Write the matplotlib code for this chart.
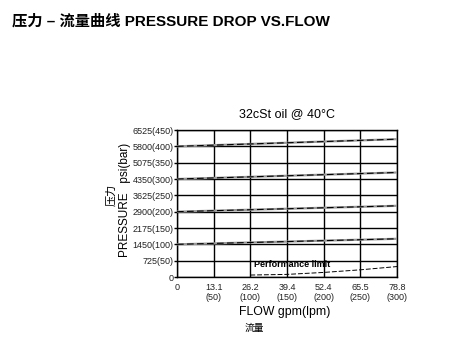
import matplotlib.pyplot as plt

plt.rcParams['font.family'] = ['Liberation Sans', 'Noto Sans CJK SC', 'DejaVu Sans']

# flow in lpm, pressure in bar
flow_lpm = [0, 300]
curve_100 = [100, 117]
curve_200 = [200, 218]
curve_300 = [300, 320]
curve_400 = [400, 422]
limit_flow = [100, 150, 200, 250, 300]
limit_bar = [6, 8, 14, 22, 32]

x_ticks = [0, 50, 100, 150, 200, 250, 300]
x_labels = ['0', '13.1\n(50)', '26.2\n(100)', '39.4\n(150)', '52.4\n(200)', '65.5\n(250)', '78.8\n(300)']
y_ticks = [0, 50, 100, 150, 200, 250, 300, 350, 400, 450]
y_labels = ['0', '725(50)', '1450(100)', '2175(150)', '2900(200)', '3625(250)',
            '4350(300)', '5075(350)', '5800(400)', '6525(450)']

fig = plt.figure(figsize=(4.52, 3.62), dpi=100)
ax = fig.add_axes([0.3916, 0.2348, 0.4867, 0.406])

for c in [curve_100, curve_200, curve_300, curve_400]:
    ax.plot(flow_lpm, c, color='#999999', lw=1.6, zorder=3)
    ax.plot(flow_lpm, c, color='black', lw=0.8, dashes=(6, 3), zorder=4)
ax.plot(limit_flow, limit_bar, color='black', lw=0.7, dashes=(5, 2), zorder=4)

ax.text(105, 30, 'Performance limit', fontsize=6.5, fontweight='bold', zorder=5)

ax.set_xlim(0, 300)
ax.set_ylim(0, 450)
ax.set_xticks(x_ticks)
ax.set_xticklabels(x_labels, fontsize=6.5, color='#222222')
ax.set_yticks(y_ticks)
ax.set_yticklabels(y_labels, fontsize=6.5, color='#222222')
ax.tick_params(axis='x', length=0, pad=4)
ax.tick_params(axis='y', length=2, width=1, pad=0.5)
ax.grid(True, color='black', lw=1)
for s in ax.spines.values():
    s.set_linewidth(1)

ax.set_title('32cSt oil @ 40°C', fontsize=9, pad=9)

fig.text(0.277, 0.448, 'PRESSURE   psi(bar)', rotation=90, fontsize=8.5, ha='center', va='center')
fig.text(0.247, 0.461, '压力', rotation=90, fontsize=8, ha='center', va='center')
fig.text(0.629, 0.138, 'FLOW gpm(lpm)', fontsize=8.8, ha='center', va='center')
fig.text(0.563, 0.095, '流量', fontsize=7, ha='center', va='center')

fig.text(0.026, 0.942, '压力 – 流量曲线 PRESSURE DROP VS.FLOW', fontsize=11,
         fontweight='bold', ha='left', va='center')

fig.savefig('out.png', dpi=100)
